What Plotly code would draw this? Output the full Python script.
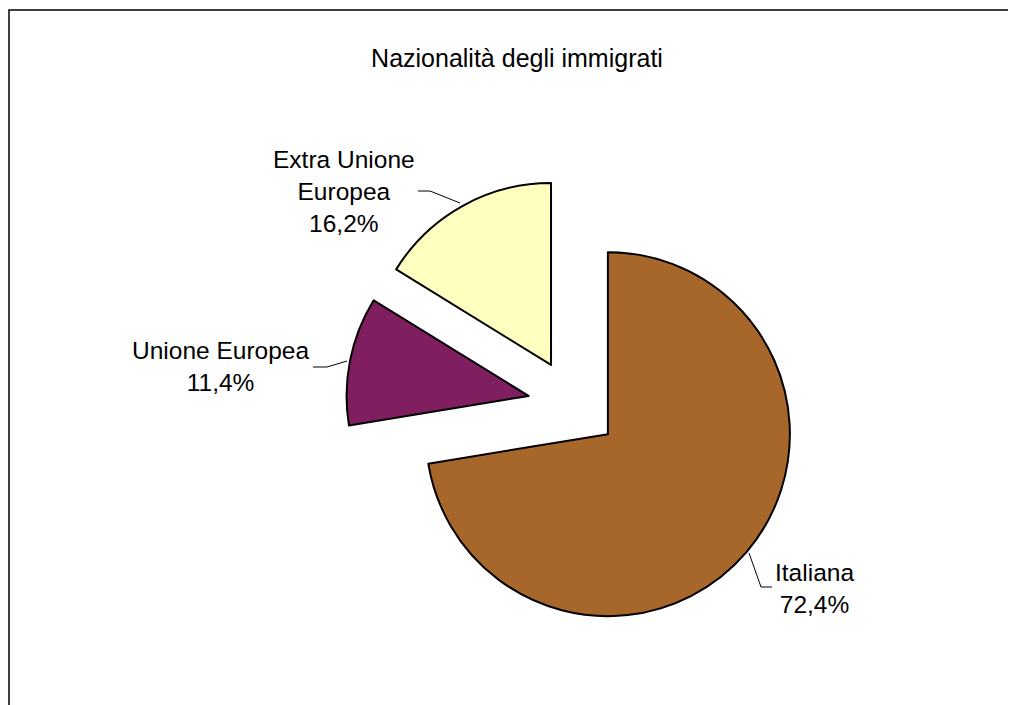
import plotly.graph_objects as go

# ---- data ----
categories = ["Italiana", "Unione Europea", "Extra Unione Europea"]
shares = [72.4, 11.4, 16.2]
label_lines = ["Italiana", "Unione Europea", "Extra Unione<br>Europea"]
slice_colors = ["#A8672A", "#7F1F5F", "#FFFFC0"]
title_text = "Nazionalità degli immigrati"

W, H = 1016, 705
OFF = 8  # page body margin in the browser


def px(x):
    return (x - OFF) / W


def py(y):
    return 1 - (y - OFF) / H


def fmt(v):
    return f"{v:.1f}".replace(".", ",") + "%"


fig = go.Figure()
fig.add_trace(go.Pie(
    labels=categories,
    values=shares,
    sort=False,
    direction="clockwise",
    rotation=0,
    pull=[0.25, 0.25, 0.25],
    marker=dict(colors=slice_colors, line=dict(color="black", width=2)),
    textinfo="none",
    hovertemplate="%{label}: %{value}%<extra></extra>",
    domain=dict(x=[px(345.7), px(800.7)], y=[py(632.2), py(177.2)]),
    showlegend=False,
))

# label positions (pixel centres) and leader line paths
label_pos = [(814, 588), (220, 367), (344, 191)]
leader_paths = [
    [(749, 553), (761, 587), (772, 587)],
    [(313, 367), (327, 367), (347, 361)],
    [(418, 191), (430, 191), (460, 203)],
]

for name, val, lbl, (lx, ly) in zip(categories, shares, label_lines, label_pos):
    fig.add_annotation(
        x=px(lx), y=py(ly), xref="paper", yref="paper",
        text=f"{lbl}<br>{fmt(val)}", showarrow=False,
        font=dict(family="Liberation Sans, Arial, sans-serif", size=24.5, color="black"),
        xanchor="center", yanchor="middle", align="center",
    )

for pts in leader_paths:
    path = "M " + " L ".join(f"{px(x)},{py(y)}" for x, y in pts)
    fig.add_shape(type="path", path=path, xref="paper", yref="paper",
                  line=dict(color="black", width=1))

# chart frame
fig.add_shape(type="rect", xref="paper", yref="paper",
              x0=px(9), y0=py(730), x1=px(1040), y1=py(10),
              line=dict(color="black", width=1.5), fillcolor="rgba(0,0,0,0)")

fig.update_layout(
    width=W, height=H,
    margin=dict(l=0, r=0, t=0, b=0),
    paper_bgcolor="white",
    plot_bgcolor="white",
    title=dict(text=title_text, x=px(517), y=py(58), xanchor="center", yanchor="middle",
               font=dict(family="Liberation Sans, Arial, sans-serif", size=25, color="black")),
)

fig.write_html("out.html")
